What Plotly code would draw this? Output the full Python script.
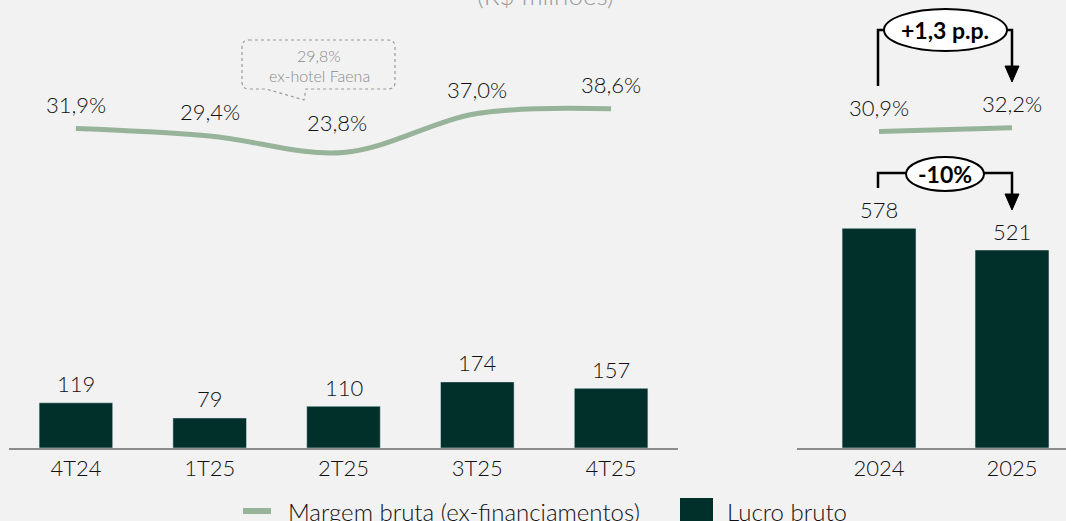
import plotly.graph_objects as go

# ---------------- data ----------------
quarters = ["4T24", "1T25", "2T25", "3T25", "4T25"]
lucro_q = [119, 79, 110, 174, 157]
margem_q = [31.9, 29.4, 23.8, 37.0, 38.6]

years = ["2024", "2025"]
lucro_y = [578, 521]
margem_y = [30.9, 32.2]

callout_lines = ["29,8%", "ex-hotel Faena"]
var_margem = "+1,3 p.p."
var_lucro = "-10%"
title_text = "(R$ milhões)"
legend_names = ["Margem bruta (ex-financiamentos)", "Lucro bruto"]

# ---------------- style ----------------
W, H = 1066, 521
BG = "#f2f2f2"
BAR = "#01302a"
LINE = "#97b49b"
AX = "#8c8c8c"
FONT = "Lato"
TXT = "#111111"
WT = 300


def px(x):
    return x / W


def py(y):
    return 1 - y / H


def fmt_pct(v):
    return f"{v:.1f}".replace(".", ",") + "%"


ydom = [py(448), 1]
bar_range = [0, 448 / 0.38]
m_range = [-76.4, 75.5]

fig = go.Figure()

fig.add_trace(go.Bar(x=quarters, y=lucro_q, marker_color=BAR, width=0.55,
                     xaxis="x", yaxis="y", showlegend=False))
fig.add_trace(go.Scatter(x=quarters, y=margem_q, mode="lines",
                         line=dict(color=LINE, width=5, shape="spline"),
                         xaxis="x", yaxis="y2", showlegend=False))
fig.add_trace(go.Bar(x=years, y=lucro_y, marker_color=BAR, width=0.556,
                     xaxis="x2", yaxis="y3", showlegend=False))
fig.add_trace(go.Scatter(x=years, y=margem_y, mode="lines",
                         line=dict(color=LINE, width=5),
                         xaxis="x2", yaxis="y4", showlegend=False))

ann = []
tick_font = dict(family=FONT, size=22, color=TXT, weight=WT)

# bar value labels
for i, v in enumerate(lucro_q):
    ann.append(dict(x=i, y=v, xref="x", yref="y", text=str(v), showarrow=False,
                    xanchor="center", yanchor="middle", yshift=19, font=tick_font))
for i, v in enumerate(lucro_y):
    ann.append(dict(x=i, y=v, xref="x2", yref="y3", text=str(v), showarrow=False,
                    xanchor="center", yanchor="middle", yshift=19, font=tick_font))

# margin labels
for i, v in enumerate(margem_q):
    ys, xs = (30, -7) if v == min(margem_q) else (24, 0)
    ann.append(dict(x=i, y=v, xref="x", yref="y2", text=fmt_pct(v), showarrow=False,
                    xanchor="center", yanchor="middle", yshift=ys, xshift=xs, font=tick_font))
for i, v in enumerate(margem_y):
    ann.append(dict(x=i, y=v, xref="x2", yref="y4", text=fmt_pct(v), showarrow=False,
                    xanchor="center", yanchor="middle", yshift=24, font=tick_font))

# title (cut at top)
ann.append(dict(x=px(545), y=py(-5), xref="paper", yref="paper", text=title_text,
                showarrow=False, xanchor="center", yanchor="middle",
                font=dict(family=FONT, size=26, color="#9a9a9a", weight=WT)))

# callout text
cfont = dict(family=FONT, size=16, color="#8a8a8a", weight=WT)
ann.append(dict(x=px(319), y=py(55), xref="paper", yref="paper", text=callout_lines[0],
                showarrow=False, xanchor="center", yanchor="middle", font=cfont))
ann.append(dict(x=px(319), y=py(75), xref="paper", yref="paper", text=callout_lines[1],
                showarrow=False, xanchor="center", yanchor="middle", font=cfont))

# variation bubbles text
bfont = dict(family=FONT, size=23, color="#000", weight="bold")
ann.append(dict(x=px(945), y=py(30), xref="paper", yref="paper", text=var_margem,
                showarrow=False, xanchor="center", yanchor="middle", font=bfont))
ann.append(dict(x=px(945), y=py(174), xref="paper", yref="paper", text=var_lucro,
                showarrow=False, xanchor="center", yanchor="middle", font=bfont))

# legend text
lfont = dict(family=FONT, size=24, color=TXT, weight=WT)
ann.append(dict(x=px(286), y=py(511), xref="paper", yref="paper", text=legend_names[0],
                showarrow=False, xanchor="left", yanchor="middle", font=lfont))
ann.append(dict(x=px(725), y=py(511), xref="paper", yref="paper", text=legend_names[1],
                showarrow=False, xanchor="left", yanchor="middle", font=lfont))

shapes = []


def P(x, y):
    return f"{px(x):.5f},{py(y):.5f}"


# callout box with tail (dashed)
L, R, T, B, r = 242, 395, 40, 89, 7
path = (f"M {P(L + r, T)} L {P(R - r, T)} Q {P(R, T)} {P(R, T + r)} "
        f"L {P(R, B - r)} Q {P(R, B)} {P(R - r, B)} "
        f"L {P(306, B)} L {P(304, 100)} L {P(266, B)} "
        f"L {P(L + r, B)} Q {P(L, B)} {P(L, B - r)} "
        f"L {P(L, T + r)} Q {P(L, T)} {P(L + r, T)} Z")
shapes.append(dict(type="path", xref="paper", yref="paper", path=path,
                   line=dict(color="#9a9a9a", width=1.2, dash="dot"), fillcolor="rgba(0,0,0,0)"))

# brackets
blk = dict(color="#000", width=2.5)


def seg(pts):
    return "M " + " L ".join(P(x, y) for x, y in pts)


shapes.append(dict(type="path", xref="paper", yref="paper",
                   path=seg([(878, 86), (878, 30), (900, 30)]), line=blk))
shapes.append(dict(type="path", xref="paper", yref="paper",
                   path=seg([(990, 30), (1012, 30), (1012, 68)]), line=blk))
shapes.append(dict(type="path", xref="paper", yref="paper",
                   path=f"M {P(1005, 66)} L {P(1019, 66)} L {P(1012, 82)} Z",
                   line=dict(color="#000", width=1), fillcolor="#000"))
shapes.append(dict(type="circle", xref="paper", yref="paper",
                   x0=px(884), x1=px(1007), y0=py(51), y1=py(9),
                   line=dict(color="#000", width=2), fillcolor="#fff"))

shapes.append(dict(type="path", xref="paper", yref="paper",
                   path=seg([(878, 188), (878, 173), (910, 173)]), line=blk))
shapes.append(dict(type="path", xref="paper", yref="paper",
                   path=seg([(980, 173), (1012, 173), (1012, 196)]), line=blk))
shapes.append(dict(type="path", xref="paper", yref="paper",
                   path=f"M {P(1005, 194)} L {P(1019, 194)} L {P(1012, 210)} Z",
                   line=dict(color="#000", width=1), fillcolor="#000"))
shapes.append(dict(type="circle", xref="paper", yref="paper",
                   x0=px(906), x1=px(984), y0=py(191), y1=py(157),
                   line=dict(color="#000", width=2), fillcolor="#fff"))

# legend swatches
shapes.append(dict(type="line", xref="paper", yref="paper", x0=px(243), x1=px(271),
                   y0=py(511), y1=py(511), line=dict(color=LINE, width=6)))
shapes.append(dict(type="rect", xref="paper", yref="paper", x0=px(680), x1=px(713),
                   y0=py(530), y1=py(498), line=dict(width=0), fillcolor=BAR))

axis_common = dict(type="category", showline=True, linecolor=AX, linewidth=2,
                   showgrid=False, zeroline=False, ticks="", tickfont=tick_font)

fig.update_layout(
    width=W, height=H,
    margin=dict(l=0, r=0, t=0, b=0),
    paper_bgcolor=BG, plot_bgcolor=BG,
    font=dict(family=FONT, color=TXT),
    showlegend=False,
    annotations=ann,
    shapes=shapes,
    xaxis=dict(domain=[px(9), px(678)], range=[-0.5, 4.5], anchor="y", **axis_common),
    yaxis=dict(domain=ydom, range=bar_range, visible=False),
    yaxis2=dict(domain=ydom, range=m_range, overlaying="y", visible=False, anchor="x"),
    xaxis2=dict(domain=[px(797), 1], range=[-0.617, 1.406], anchor="y3", **axis_common),
    yaxis3=dict(domain=ydom, range=bar_range, visible=False, anchor="x2"),
    yaxis4=dict(domain=ydom, range=m_range, overlaying="y3", visible=False, anchor="x2"),
)

fig.write_html("out.html", config={"displayModeBar": False},
               post_script="document.body.style.margin='0px';document.body.style.overflow='hidden';")
